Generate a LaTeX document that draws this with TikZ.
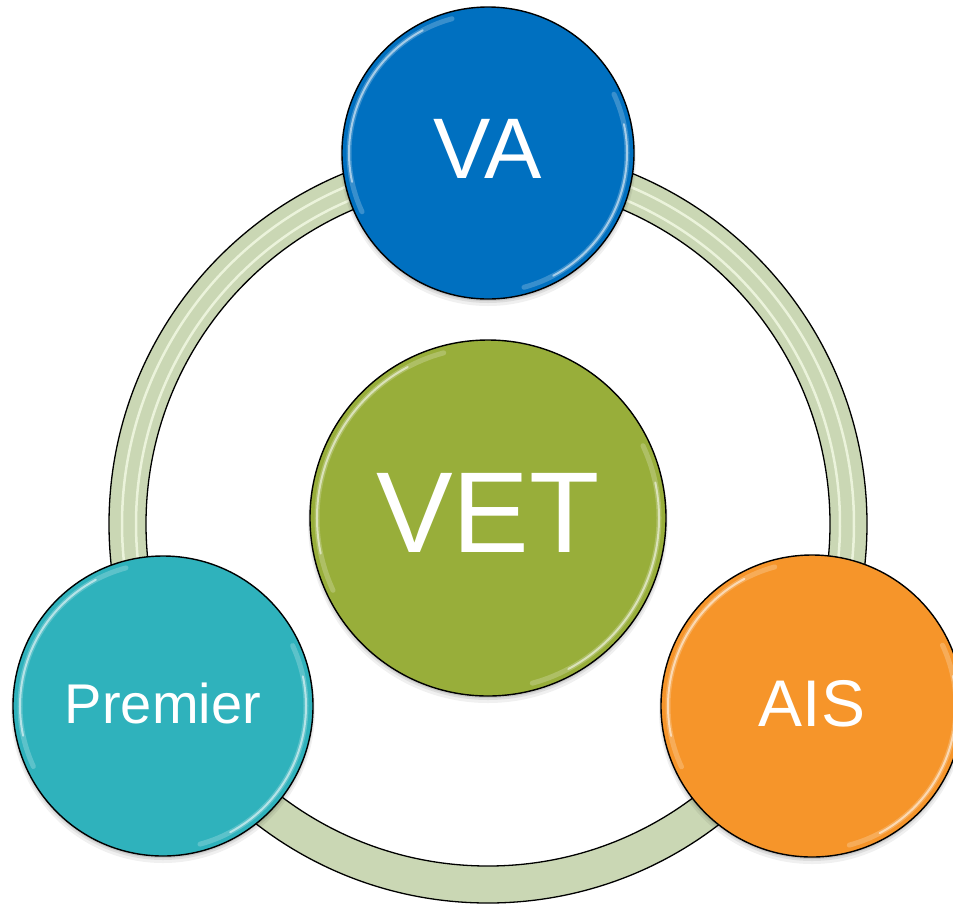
\documentclass[tikz,border=0pt]{standalone}
\usepackage{fontspec}
\setmainfont{Liberation Sans}
\definecolor{vablue}{HTML}{0070C0}
\definecolor{vetgreen}{HTML}{98AE3A}
\definecolor{aisorange}{HTML}{F6952A}
\definecolor{premteal}{HTML}{2FB2BC}
\definecolor{ringgreen}{HTML}{CAD7B4}
\definecolor{ringlight}{HTML}{F1F8E2}
% soft drop shadow under a disc
\newcommand\discshadow[2]{%
  \fill[black,opacity=0.06] ([yshift=-5pt]#1) circle[radius=#2+2pt];
  \fill[black,opacity=0.08] ([yshift=-3pt]#1) circle[radius=#2+1pt];
  \fill[black,opacity=0.10] ([yshift=-2pt]#1) circle[radius=#2];
}
% glossy rim highlights of a disc: a soft wide band with a brighter core
\newcommand\discglint[2]{%
  \draw[shine, line width=5pt, opacity=0.22] ([shift={(105:#2-7pt)}]#1) arc[start angle=105,end angle=205,radius=#2-7pt];
  \draw[shine, line width=5pt, opacity=0.22] ([shift={(285:#2-7pt)}]#1) arc[start angle=285,end angle=385,radius=#2-7pt];
  \draw[shine, line width=2pt, opacity=0.55] ([shift={(118:#2-7pt)}]#1) arc[start angle=118,end angle=192,radius=#2-7pt];
  \draw[shine, line width=2pt, opacity=0.55] ([shift={(298:#2-7pt)}]#1) arc[start angle=298,end angle=372,radius=#2-7pt];
}
\begin{document}
\begin{tikzpicture}[x=1pt,y=-1pt,
  bubble/.style={circle, draw=black, line width=1.4pt, text=white, inner sep=0pt},
  shine/.style={white, line cap=round},
  stripe/.style={ringlight, line width=2.5pt, opacity=0.85, line cap=round},
  rim/.style={black, line width=1.3pt},
]
\useasboundingbox (0,0) rectangle (953,906);
\clip (0,0) rectangle (953,906);

\coordinate (hub) at (488,524);
\coordinate (vac) at (488,153);
\coordinate (vetc) at (488,518);
\coordinate (premc) at (163,706);
\coordinate (aisc) at (812,706);

% the ring linking the outer discs
\fill[ringgreen, even odd rule] (hub) circle[radius=379pt] (hub) circle[radius=342pt];
\draw[stripe] ([shift={(100:352pt)}]hub) arc[start angle=100,end angle=215,radius=352pt];
\draw[stripe] ([shift={(100:366pt)}]hub) arc[start angle=100,end angle=215,radius=366pt];
\draw[stripe] ([shift={(-35:352pt)}]hub) arc[start angle=-35,end angle=80,radius=352pt];
\draw[stripe] ([shift={(-35:366pt)}]hub) arc[start angle=-35,end angle=80,radius=366pt];
\draw[rim] (hub) circle[radius=379pt];
\draw[rim] (hub) circle[radius=342pt];

% shadows
\discshadow{vac}{146pt}
\discshadow{vetc}{178pt}
\discshadow{premc}{150pt}
\discshadow{aisc}{151pt}

% discs
\node[bubble, fill=vablue, minimum size=292pt, text depth=9pt,
      font=\fontsize{86}{86}\selectfont] (va) at (vac) {VA};
\node[bubble, fill=vetgreen, minimum size=356pt, text depth=10pt,
      font=\fontsize{115}{115}\selectfont] (vet) at (vetc) {VET};
\node[bubble, fill=premteal, minimum size=300pt, text depth=6pt,
      font=\fontsize{56}{56}\selectfont] (prem) at (premc) {Premier};
\node[bubble, fill=aisorange, minimum size=302pt, text depth=6pt,
      font=\fontsize{66}{66}\selectfont] (ais) at (aisc) {AIS};

\discglint{va.center}{146pt}
\discglint{vet.center}{178pt}
\discglint{prem.center}{150pt}
\discglint{ais.center}{151pt}
\end{tikzpicture}
\end{document}
